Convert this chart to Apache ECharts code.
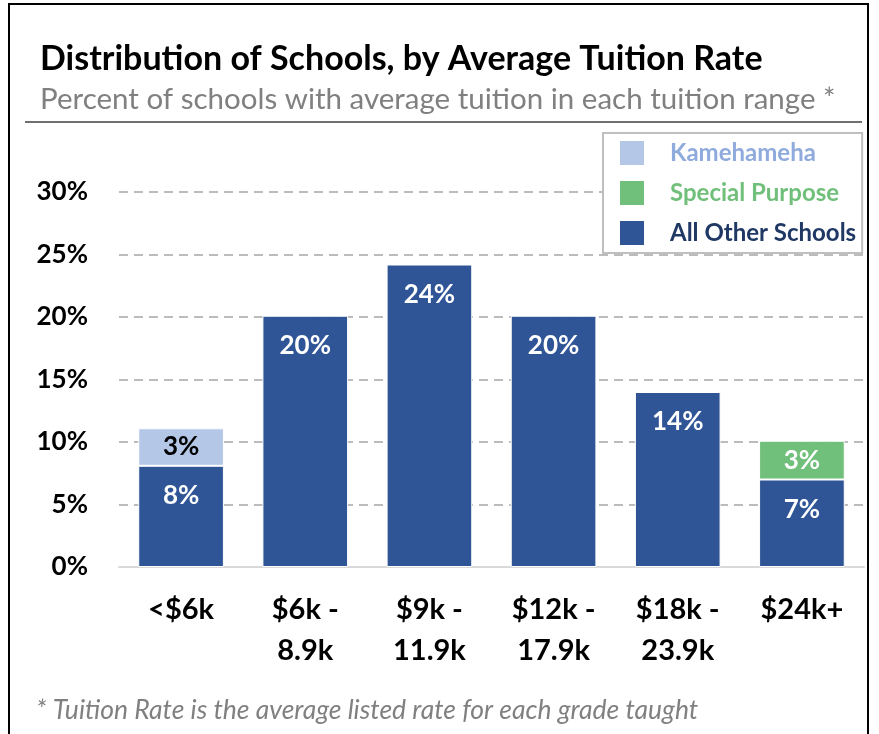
<!DOCTYPE html>
<html>
<head>
<meta charset="utf-8">
<script src="https://cdn.jsdelivr.net/npm/echarts@6/dist/echarts.min.js"></script>
<style>
  html, body { margin: 0; padding: 0; background: #fff; }
  #chart { width: 879px; height: 734px; }
</style>
</head>
<body>
<div id="chart"></div>
<script>
// tuition ranges (x axis)
const categories = ["<$6k", "$6k -\n8.9k", "$9k -\n11.9k", "$12k -\n17.9k", "$18k -\n23.9k", "$24k+"];
// percent of schools, per segment
const allOther = [8.1, 20.1, 24.2, 20.1, 14.0, 7.0];
const kamehameha = [3.0, null, null, null, null, null];
const specialPurpose = [null, null, null, null, null, 3.1];
const yTicks = [0, 5, 10, 15, 20, 25, 30];

const FONT = "Lato, 'Open Sans', sans-serif";
const pct = (p) => Math.round(p.value) + "%";

let myChart = echarts.init(document.getElementById("chart"));
myChart.setOption({
  textStyle: { fontFamily: FONT },
  animation: false,
  title: [
    {
      text: "Distribution of Schools, by Average Tuition Rate",
      left: 35, top: 37,
      textStyle: { fontFamily: FONT, fontSize: 34, fontWeight: "bold", color: "#000" },
    },
    {
      text: "Percent of schools with average tuition in each tuition range *",
      left: 35, top: 79,
      textStyle: { fontFamily: FONT, fontSize: 29.5, fontWeight: "normal", color: "#808080" },
    },
    {
      text: "* Tuition Rate is the average listed rate for each grade taught",
      left: 31, top: 692,
      textStyle: { fontFamily: FONT, fontSize: 26.5, fontStyle: "italic", fontWeight: "normal", color: "#808080" },
    },
  ],
  graphic: [
    {
      type: "polyline",
      shape: { points: [[9, 740], [9, 4], [868, 4], [868, 740]] },
      style: { stroke: "#000", lineWidth: 2, fill: null },
    },
    {
      type: "line",
      shape: { x1: 25, y1: 122, x2: 862, y2: 122 },
      style: { stroke: "#404040", lineWidth: 1.5 },
    },
  ],
  legend: {
    orient: "vertical",
    left: 603,
    top: 133,
    padding: [6, 6, 6, 15],
    itemGap: 12,
    itemWidth: 26,
    itemHeight: 26,
    borderColor: "#bfbfbf",
    borderWidth: 2,
    backgroundColor: "#fff",
    icon: "rect",
    z: 10,
    data: [
      { name: "Kamehameha", textStyle: { color: "#8faadc" } },
      { name: "Special Purpose", textStyle: { color: "#70bf7a" } },
      { name: "All Other Schools", textStyle: { color: "#1f3864" } },
    ],
    textStyle: { fontFamily: FONT, fontSize: 24, fontWeight: "bold", padding: [0, 0, 0, 20] },
  },
  grid: { left: 119, right: 15, top: 192, bottom: 167 },
  xAxis: {
    type: "category",
    data: categories,
    axisTick: { show: false },
    axisLine: { lineStyle: { color: "#d9d9d9", width: 2 } },
    axisLabel: {
      margin: 22,
      lineHeight: 41,
      fontFamily: FONT, fontSize: 29, fontWeight: "bold", color: "#000",
    },
  },
  yAxis: {
    type: "value",
    min: yTicks[0],
    max: yTicks[yTicks.length - 1],
    interval: 5,
    axisLine: { show: false },
    axisTick: { show: false },
    axisLabel: {
      margin: 31,
      formatter: "{value}%",
      fontFamily: FONT, fontSize: 26, fontWeight: "bold", color: "#000",
    },
    splitLine: { lineStyle: { color: "#a6a6a6", width: 1.5, type: [9, 6] } },
  },
  series: [
    {
      name: "All Other Schools",
      type: "bar",
      stack: "t",
      data: allOther,
      barCategoryGap: "31%",
      itemStyle: { color: "#2f5597", borderColor: "#fff", borderWidth: 1 },
      label: {
        show: true, position: "insideTop", distance: 17, formatter: pct,
        fontFamily: FONT, fontSize: 26, fontWeight: "bold", color: "#fff",
      },
    },
    {
      name: "Kamehameha",
      type: "bar",
      stack: "t",
      data: kamehameha,
      itemStyle: { color: "#b4c7e7", borderColor: "#fff", borderWidth: 1 },
      label: {
        show: true, position: "inside", formatter: pct,
        fontFamily: FONT, fontSize: 26, fontWeight: "bold", color: "#000",
      },
    },
    {
      name: "Special Purpose",
      type: "bar",
      stack: "t",
      data: specialPurpose,
      itemStyle: { color: "#70bf7a", borderColor: "#fff", borderWidth: 1 },
      label: {
        show: true, position: "inside", formatter: pct,
        fontFamily: FONT, fontSize: 26, fontWeight: "bold", color: "#fff",
      },
    },
  ],
});
</script>
</body>
</html>
